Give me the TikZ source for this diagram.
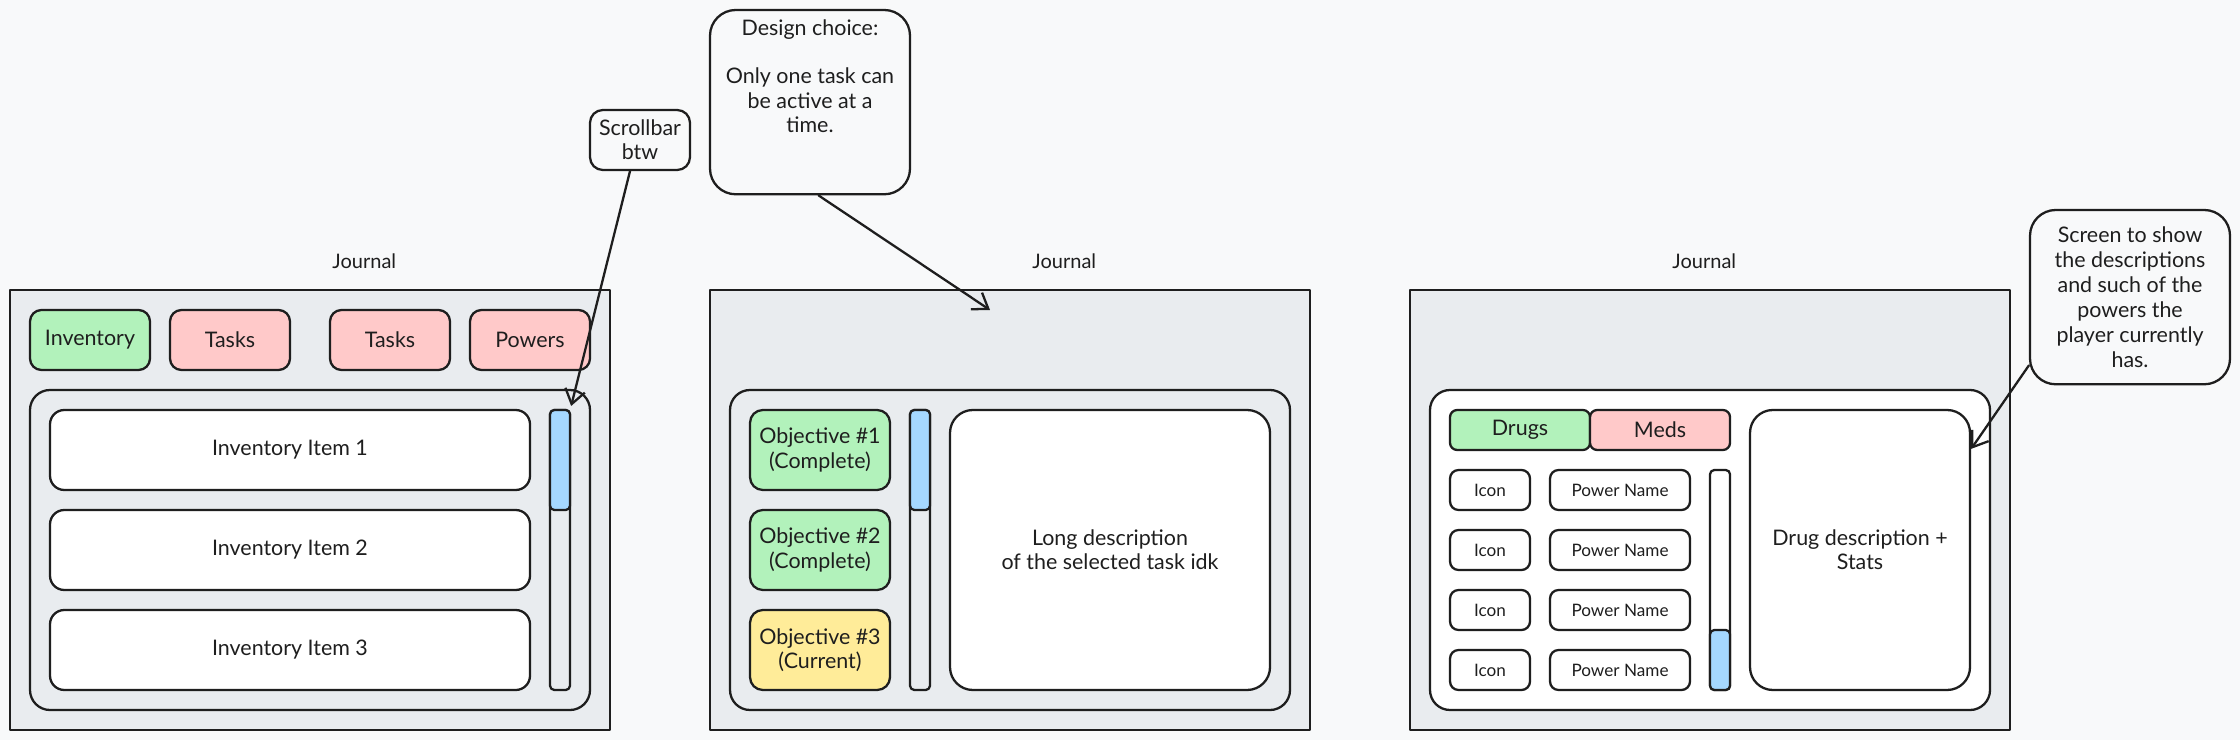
\documentclass[tikz,border=0pt]{standalone}
\usepackage{fontspec}
\setmainfont{Lato}
\usetikzlibrary{arrows.meta,positioning}

\begin{document}
\begin{tikzpicture}
        [x=1pt, y=-1pt, line cap=round, line join=round,
        % Styles
        box/.style={draw=ink, line width=1.6pt, inner sep=0pt, align=center, text=ink,
                font=\fontsize{15}{17}\selectfont},
        frame/.style={box, fill=panelgray, line width=1.8pt, minimum width=420pt, minimum height=308pt},
        panel/.style={box, rounded corners=14pt, minimum width=392pt, minimum height=224pt},
        tab/.style={box, rounded corners=8pt, minimum width=84pt, minimum height=42pt},
        item/.style={box, fill=white, rounded corners=10pt, minimum width=336pt, minimum height=56pt},
        objective/.style={box, rounded corners=9pt, minimum width=98pt, minimum height=56pt},
        small box/.style={box, fill=white, rounded corners=6pt, minimum height=28pt,
                font=\fontsize{12}{13}\selectfont},
        track/.style={box, fill=panelgray, rounded corners=3pt, minimum width=14pt},
        thumb/.style={box, fill=thumbblue, rounded corners=3pt, minimum width=14pt},
        note/.style={box, fill=bgcolor, rounded corners=14pt},
        title/.style={text=ink, font=\fontsize{14}{15}\selectfont},
        callout/.style={draw=ink, line width=1.6pt, -{Straight Barb[length=10pt, width=14pt]}}]

        % Colors
        \definecolor{bgcolor}{HTML}{F8F9FA}
        \definecolor{ink}{HTML}{1E1E1E}
        \definecolor{panelgray}{HTML}{E9ECEF}
        \definecolor{tabgreen}{HTML}{B2F2BB}
        \definecolor{tabred}{HTML}{FFC9C9}
        \definecolor{tabyellow}{HTML}{FFEC99}
        \definecolor{thumbblue}{HTML}{A5D8FF}

        % Canvas
        \fill[bgcolor] (0, 0) rectangle (1568, 518);
        \useasboundingbox (0, 0) rectangle (1568, 518);

        % Inventory screen
        \node[title] (journalA) at (255, 183) {Journal};
        \node[frame] (frameA) at (217, 357) {};
        \foreach \name/\x/\tabcolor/\tabtext in
                {invtab/63/tabgreen/Inventory, taskstab/161/tabred/Tasks,
                 taskstabb/273/tabred/Tasks, powerstab/371/tabred/Powers}
        \node[tab, fill=\tabcolor] (\name) at (\x, 238) {\tabtext};
        \node[panel, fill=panelgray] (panelA) at (217, 385) {};
        \foreach \i/\y in {1/315, 2/385, 3/455}
        \node[item] (item\i) at (203, \y) {Inventory Item \i};
        \node[track, minimum height=196pt] (trackA) at (392, 385) {};
        \node[thumb, minimum height=70pt] (thumbA) at (392, 322) {};

        % Tasks screen
        \node[title] (journalB) at (745, 183) {Journal};
        \node[frame] (frameB) at (707, 357) {};
        \node[panel, fill=panelgray] (panelB) at (707, 385) {};
        \foreach \i/\y/\objcolor/\state in
                {1/315/tabgreen/Complete, 2/385/tabgreen/Complete, 3/455/tabyellow/Current}
        \node[objective, fill=\objcolor] (obj\i) at (574, \y) {Objective \#\i\\(\state)};
        \node[track, minimum height=196pt] (trackB) at (644, 385) {};
        \node[thumb, minimum height=70pt] (thumbB) at (644, 322) {};
        \node[item, minimum width=224pt, minimum height=196pt, rounded corners=16pt]
                (taskdesc) at (777, 385) {Long description\\of the selected task idk};

        % Powers screen
        \node[title] (journalC) at (1193, 183) {Journal};
        \node[frame] (frameC) at (1197, 357) {};
        \node[panel, fill=white] (panelC) at (1197, 385) {};
        \node[tab, fill=tabgreen, minimum width=98pt, minimum height=28pt, rounded corners=5pt]
                (drugstab) at (1064, 301) {Drugs};
        \node[tab, fill=tabred, minimum width=98pt, minimum height=28pt, rounded corners=5pt]
                (medstab) at (1162, 301) {Meds};
        \foreach \i/\y in {1/343, 2/385, 3/427, 4/469} {
                \node[small box, minimum width=56pt] (icon\i) at (1043, \y) {Icon};
                \node[small box, minimum width=98pt] (pname\i) at (1134, \y) {Power Name};
        }
        \node[track, fill=white, minimum height=154pt] (trackC) at (1204, 406) {};
        \node[thumb, minimum height=42pt] (thumbC) at (1204, 462) {};
        \node[item, minimum width=154pt, minimum height=196pt, rounded corners=16pt]
                (drugdesc) at (1302, 385) {Drug description +\\Stats};

        % Notes
        \node[note, minimum width=70pt, minimum height=42pt, rounded corners=9pt]
                (scrollnote) at (448, 98) {Scrollbar\\btw};
        \node[note, minimum width=140pt, minimum height=129pt, rounded corners=18pt]
                (designnote) at (567, 71.5) {};
        \node[text=ink, align=center, anchor=north, font=\fontsize{15}{17}\selectfont]
                (designtext) at ([yshift=-4pt]designnote.north)
                {Design choice:\\[17pt]Only one task can\\be active at a\\time.};
        \node[note, minimum width=140pt, minimum height=122pt, rounded corners=18pt,
                font=\fontsize{15}{17.6}\selectfont]
                (powernote) at (1491, 208)
                {Screen to show\\the descriptions\\and such of the\\powers the\\player currently\\has.};

        \coordinate (designtip) at (693, 217);
        \draw[callout] ([xshift=-7pt]scrollnote.south) -- ([yshift=2pt]thumbA.north east);
        \draw[callout] ([xshift=6pt]designnote.south) -- (designtip);
        \draw[callout] ([yshift=14pt]powernote.south west) -- ([yshift=-28pt]drugdesc.north east);
\end{tikzpicture}
\end{document}
